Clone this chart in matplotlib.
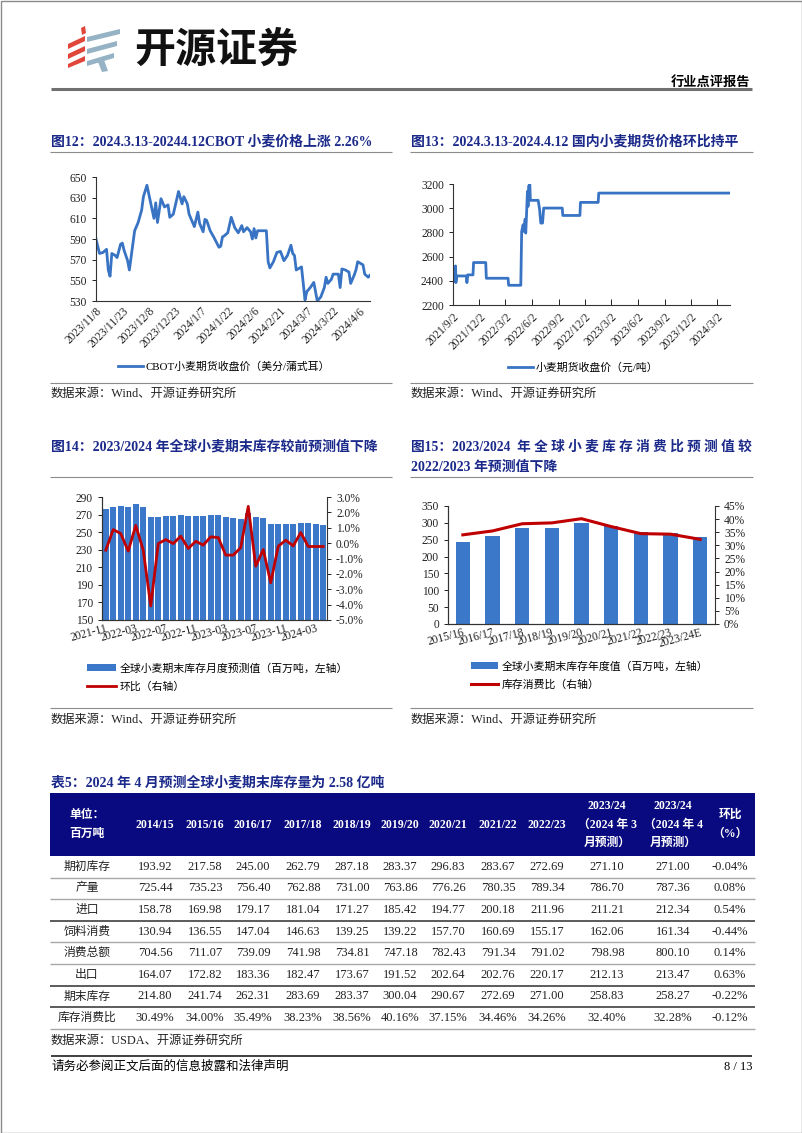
import numpy as np
import pandas as pd
import matplotlib
matplotlib.use("Agg")
import matplotlib.pyplot as plt
from matplotlib.patches import Polygon, Rectangle
from matplotlib.ticker import FormatStrFormatter

plt.rcParams['font.family'] = ['Liberation Serif', 'Noto Sans CJK SC']
plt.rcParams['axes.unicode_minus'] = False

W, H = 802, 1133
NAVY = '#1B2A8A'
BLUE = '#3873C4'
BAR = '#3B78C9'
RED = '#C00000'
HEAD = '#0A0A80'

# ---- 图12: CBOT wheat close (cents/bushel)
cbot_dates = ['2023-11-08', '2023-11-10', '2023-11-12', '2023-11-14', '2023-11-15', '2023-11-16',
              '2023-11-17', '2023-11-19', '2023-11-20', '2023-11-22', '2023-11-23', '2023-11-24',
              '2023-11-26', '2023-11-27', '2023-11-30', '2023-12-02', '2023-12-04', '2023-12-05',
              '2023-12-07', '2023-12-09', '2023-12-11', '2023-12-12', '2023-12-13', '2023-12-15',
              '2023-12-17', '2023-12-19', '2023-12-20', '2023-12-22', '2023-12-25', '2023-12-27',
              '2023-12-28', '2023-12-30', '2023-12-31', '2024-01-03', '2024-01-05', '2024-01-06',
              '2024-01-08', '2024-01-09', '2024-01-10', '2024-01-12', '2024-01-14', '2024-01-17',
              '2024-01-18', '2024-01-19', '2024-01-20', '2024-01-22', '2024-01-24', '2024-01-26',
              '2024-01-28', '2024-01-30', '2024-01-31', '2024-02-02', '2024-02-04', '2024-02-05',
              '2024-02-06', '2024-02-07', '2024-02-08', '2024-02-13', '2024-02-14', '2024-02-15',
              '2024-02-17', '2024-02-19', '2024-02-21', '2024-02-23', '2024-02-25', '2024-02-27',
              '2024-02-28', '2024-02-29', '2024-03-01', '2024-03-02', '2024-03-04', '2024-03-06',
              '2024-03-07', '2024-03-09', '2024-03-11', '2024-03-13', '2024-03-15', '2024-03-17',
              '2024-03-18', '2024-03-19', '2024-03-21', '2024-03-22', '2024-03-25', '2024-03-26',
              '2024-03-27', '2024-03-29', '2024-03-31', '2024-04-01', '2024-04-03', '2024-04-04',
              '2024-04-05', '2024-04-07', '2024-04-08', '2024-04-09', '2024-04-11', '2024-04-12']
cbot_price = [590, 576, 577, 580, 560, 554, 576, 574, 572, 585, 586, 579,
              569, 560, 598, 606, 618, 631, 642, 626, 610, 625, 606, 629,
              621, 623, 611, 614, 636, 624, 631, 624, 614, 602, 616, 605,
              597, 609, 608, 598, 592, 582, 583, 592, 593, 596, 611, 601,
              596, 603, 597, 601, 597, 590, 600, 591, 598, 598, 568, 562,
              568, 577, 578, 569, 574, 584, 576, 574, 560, 561, 563, 531,
              539, 543, 548, 530, 534, 543, 553, 547, 551, 556, 556, 543,
              561, 560, 558, 547, 555, 560, 568, 566, 565, 556, 553, 555]
cbot_ticks = ['2023/11/8', '2023/11/23', '2023/12/8', '2023/12/23', '2024/1/7', '2024/1/22',
              '2024/2/6', '2024/2/21', '2024/3/7', '2024/3/22', '2024/4/6']

# ---- 图13: domestic wheat futures close (yuan/ton)
cn_dates = ['2021-09-02', '2021-09-05', '2021-09-09', '2021-09-11', '2021-09-12', '2021-09-15',
            '2021-10-18', '2021-10-20', '2021-10-23', '2021-11-10', '2021-11-12', '2021-12-24',
            '2021-12-26', '2022-03-11', '2022-03-13', '2022-04-24', '2022-04-27', '2022-05-02',
            '2022-05-05', '2022-05-09', '2022-05-11', '2022-05-13', '2022-05-17', '2022-05-19',
            '2022-05-21', '2022-05-25', '2022-05-27', '2022-06-23', '2022-06-28', '2022-07-02',
            '2022-07-08', '2022-07-12', '2022-09-14', '2022-09-16', '2022-11-14', '2022-11-16',
            '2023-01-16', '2023-01-18', '2024-04-15']
cn_price = [2407, 2393, 2518, 2523, 2385, 2440, 2440, 2385, 2449, 2449, 2551, 2551,
            2421, 2421, 2363, 2363, 2808, 2863, 2808, 2910, 2794, 2904, 3139, 3015,
            3181, 3203, 3065, 3065, 2987, 2877, 2877, 3001, 3001, 2940, 2940, 3048,
            3048, 3125, 3125]
cn_ticks = ['2021/9/2', '2021/12/2', '2022/3/2', '2022/6/2', '2022/9/2', '2022/12/2',
            '2023/3/2', '2023/6/2', '2023/9/2', '2023/12/2', '2024/3/2']

# ---- 图14: monthly ending-stock forecast + MoM
months = ['2021-11', '2021-12', '2022-01', '2022-02', '2022-03', '2022-04', '2022-05', '2022-06',
          '2022-07', '2022-08', '2022-09', '2022-10', '2022-11', '2022-12', '2023-01', '2023-02',
          '2023-03', '2023-04', '2023-05', '2023-06', '2023-07', '2023-08', '2023-09', '2023-10',
          '2023-11', '2023-12', '2024-01', '2024-02', '2024-03', '2024-04']
stock_monthly = [276.5, 278.5, 280.3, 278.8, 282.0, 279.0, 267.6, 267.6, 268.4, 268.4, 269.2, 268.4,
                 268.6, 268.1, 269.2, 270.0, 267.7, 265.6, 264.8, 271.3, 266.9, 266.1, 259.4, 258.9,
                 259.3, 258.9, 260.5, 260.0, 258.8, 258.3]
stock_mom = [-0.46, 0.88, 0.62, -0.52, 1.16, -0.46, -4.09, -0.03, 0.23, -0.03, 0.45, -0.35,
             0.12, -0.13, 0.41, 0.36, -0.78, -0.78, -0.29, 2.39, -1.50, -0.42, -2.58, -0.20,
             0.19, -0.18, 0.69, -0.22, -0.22, -0.22]

# ---- 图15: yearly ending stocks + stock/use ratio
seasons = ['2015/16', '2016/17', '2017/18', '2018/19', '2019/20', '2020/21', '2021/22', '2022/23', '2023/24E']
stock_yearly = [241.74, 262.31, 283.69, 283.37, 300.04, 290.67, 272.69, 271.00, 258.27]
stock_ratio = [34.00, 35.49, 38.23, 38.56, 40.16, 37.15, 34.46, 34.26, 32.28]

# ---- 表5
tab_cols = ['单位：\n百万吨', '2014/15', '2015/16', '2016/17', '2017/18', '2018/19', '2019/20',
            '2020/21', '2021/22', '2022/23', '2023/24\n（2024 年 3\n月预测）',
            '2023/24\n（2024 年 4\n月预测）', '环比\n（%）']
tab_rows = ['期初库存', '产量', '进口', '饲料消费', '消费总额', '出口', '期末库存', '库存消费比']
row_begin = ['193.92', '217.58', '245.00', '262.79', '287.18', '283.37', '296.83', '283.67', '272.69', '271.10', '271.00', '-0.04%']
row_prod = ['725.44', '735.23', '756.40', '762.88', '731.00', '763.86', '776.26', '780.35', '789.34', '786.70', '787.36', '0.08%']
row_imp = ['158.78', '169.98', '179.17', '181.04', '171.27', '185.42', '194.77', '200.18', '211.96', '211.21', '212.34', '0.54%']
row_feed = ['130.94', '136.55', '147.04', '146.63', '139.25', '139.22', '157.70', '160.69', '155.17', '162.06', '161.34', '-0.44%']
row_cons = ['704.56', '711.07', '739.09', '741.98', '734.81', '747.18', '782.43', '791.34', '791.02', '798.98', '800.10', '0.14%']
row_exp = ['164.07', '172.82', '183.36', '182.47', '173.67', '191.52', '202.64', '202.76', '220.17', '212.13', '213.47', '0.63%']
row_end = ['214.80', '241.74', '262.31', '283.69', '283.37', '300.04', '290.67', '272.69', '271.00', '258.83', '258.27', '-0.22%']
row_ratio = ['30.49%', '34.00%', '35.49%', '38.23%', '38.56%', '40.16%', '37.15%', '34.46%', '34.26%', '32.40%', '32.28%', '-0.12%']
tab_values = [row_begin, row_prod, row_imp, row_feed, row_cons, row_exp, row_end, row_ratio]

fig = plt.figure(figsize=(W / 100, H / 100), dpi=100)
page = fig.add_axes([0, 0, 1, 1])
page.set_xlim(0, W); page.set_ylim(H, 0); page.axis('off')


def add_ax(x0, y0, x1, y1):
    return fig.add_axes([x0 / W, 1 - y1 / H, (x1 - x0) / W, (y1 - y0) / H])


def hline(y, x0, x1, color='#8C8C8C', lw=0.8):
    page.plot([x0, x1], [y, y], color=color, lw=lw, solid_capstyle='butt')


# page frame, header, logo
page.add_patch(Rectangle((0.5, 0.5), W - 1, H - 1, fill=False, ec='#8A8A8A', lw=1))
for pts in ([(68, 44), (85, 36), (85, 41), (68, 49)],
            [(68, 54), (85, 46), (85, 51), (68, 59)],
            [(68, 64), (85, 56), (85, 61), (68, 68)],
            [(81, 28), (85, 26), (86, 33), (82, 35)]):
    page.add_patch(Polygon(pts, closed=True, color='#E0463A', lw=0))
for pts in ([(87, 37), (120, 29), (120, 34), (87, 42)],
            [(87, 49), (117, 41), (117, 46), (87, 54)],
            [(87, 61), (114, 53), (114, 58), (87, 66)],
            [(98, 62), (104, 60), (108, 71), (102, 72)]):
    page.add_patch(Polygon(pts, closed=True, color='#95B3C4', lw=0))
page.text(134, 50, '开源证券', fontsize=29.5, fontweight='bold', family='Noto Sans CJK SC',
          va='center', ha='left', color='#111111')
page.text(750, 82, '行业点评报告', fontsize=9.5, fontweight='bold', ha='right', va='center')
hline(89, 51, 752, color='#707070', lw=2.2)

tkw = dict(fontsize=10, fontweight='bold', color=NAVY, va='center', ha='left')
page.text(51, 142, '图12：2024.3.13-20244.12CBOT 小麦价格上涨 2.26%', **tkw)
page.text(411, 142, '图13：2024.3.13-2024.4.12 国内小麦期货价格环比持平', **tkw)
hline(152, 50, 392); hline(152, 410, 753)
skw = dict(fontsize=8.8, va='center', ha='left', color='#222222')
hline(383, 50, 392); hline(383, 410, 753)
page.text(51, 394, '数据来源：Wind、开源证券研究所', **skw)
page.text(411, 394, '数据来源：Wind、开源证券研究所', **skw)
page.text(51, 447, '图14：2023/2024 年全球小麦期末库存较前预测值下降', **tkw)
page.text(411, 447, '图15：2023/2024  年 全 球 小 麦 库 存 消 费 比 预 测 值 较',
          **{**tkw, 'fontsize': 9.85})
page.text(411, 467, '2022/2023 年预测值下降', **tkw)
hline(477, 50, 392); hline(477, 410, 753)
hline(708, 50, 392); hline(708, 410, 753)
page.text(51, 720, '数据来源：Wind、开源证券研究所', **skw)
page.text(411, 720, '数据来源：Wind、开源证券研究所', **skw)
page.text(51, 783, '表5：2024 年 4 月预测全球小麦期末库存量为 2.58 亿吨', **tkw)

# ---- table
col_x = [87, 155, 205, 253, 303, 352, 400, 448, 498, 547, 607, 673, 730]
page.add_patch(Rectangle((50, 793), 705, 63, color=HEAD, lw=0))
for cx, lab in zip(col_x, tab_cols):
    page.text(cx, 824.5, lab, color='white', fontsize=8.5, fontweight='bold',
              ha='center', va='center', linespacing=1.75)
row_h = 21.6
line_dark = [False, False, True, False, False, True, True, False]
for i, (name, vals) in enumerate(zip(tab_rows, tab_values)):
    yc = 856 + row_h * (i + 0.5)
    page.text(col_x[0], yc, name, fontsize=8.5, ha='center', va='center', color='#222222')
    for cx, v in zip(col_x[1:], vals):
        page.text(cx, yc, v, fontsize=9, ha='center', va='center', color='#222222')
    yl = 856 + row_h * (i + 1)
    if line_dark[i]:
        hline(yl, 50, 755, color='#404040', lw=1.2)
    else:
        hline(yl, 50, 755, color='#A8A8A8', lw=1.0)
page.text(51, 1041, '数据来源：USDA、开源证券研究所', **skw)
hline(1056, 51, 752, color='#202020', lw=1.2)
page.text(51, 1067, '请务必参阅正文后面的信息披露和法律声明', fontsize=9, va='center', ha='left')
page.text(752, 1067, '8 / 13', fontsize=9, va='center', ha='right')


def style(ax, spines=('left', 'bottom')):
    for s in ax.spines:
        ax.spines[s].set_visible(s in spines)
        ax.spines[s].set_color('#333333')
        ax.spines[s].set_linewidth(0.8)
    ax.tick_params(labelsize=8.3, width=0.7, length=3, colors='#222222')


# ---- chart 12
ax1 = add_ax(96, 177, 370, 301)
d1 = pd.to_datetime(cbot_dates)
ln1, = ax1.plot(d1, cbot_price, color=BLUE, lw=2)
ax1.set_xlim(d1[0], d1[-1])
ax1.set_ylim(530, 650)
ax1.set_yticks(np.arange(530, 651, 20))
ax1.set_xticks(pd.to_datetime(cbot_ticks))
ax1.set_xticklabels(cbot_ticks, rotation=45, ha='right', rotation_mode='anchor')
style(ax1)
ax1.tick_params(axis='x', length=0, pad=3)
ax1.legend([ln1], ['CBOT小麦期货收盘价（美分/蒲式耳）'], loc='center', frameon=False,
           bbox_to_anchor=(224 / W, 1 - 367 / H), bbox_transform=fig.transFigure,
           fontsize=7.8, handlelength=2.3, handletextpad=0.2, borderpad=0)

# ---- chart 13
ax2 = add_ax(453, 184, 730, 305)
d2 = pd.to_datetime(cn_dates)
ln2, = ax2.plot(d2, cn_price, color=BLUE, lw=2)
ax2.set_xlim(d2[0], d2[-1])
ax2.set_ylim(2200, 3200)
ax2.set_yticks(np.arange(2200, 3201, 200))
ax2.set_xticks(pd.to_datetime(cn_ticks))
ax2.set_xticklabels(cn_ticks, rotation=45, ha='right', rotation_mode='anchor')
style(ax2)
ax2.tick_params(axis='x', direction='in', length=4, pad=4)
ax2.legend([ln2], ['小麦期货收盘价（元/吨）'], loc='center', frameon=False,
           bbox_to_anchor=(583 / W, 1 - 368 / H), bbox_transform=fig.transFigure,
           fontsize=7.8, handlelength=2.3, handletextpad=0.2, borderpad=0)

# ---- chart 14
ax3 = add_ax(102, 497, 327, 620)
x3 = np.arange(len(months))
b3 = ax3.bar(x3, stock_monthly, width=0.86, color=BAR, zorder=2)
ax3.set_xlim(-0.5, len(months) - 0.5)
ax3.set_ylim(150, 290)
ax3.set_yticks(np.arange(150, 291, 20))
ax3.set_xticks(x3[::4])
ax3.set_xticklabels(months[::4], rotation=15, ha='right', rotation_mode='anchor')
ax3r = ax3.twinx()
l3, = ax3r.plot(x3, stock_mom, color=RED, lw=2)
ax3r.set_ylim(-5, 3)
ax3r.set_yticks(np.arange(-5, 3.1, 1))
ax3r.yaxis.set_major_formatter(FormatStrFormatter('%.1f%%'))
style(ax3)
style(ax3r, spines=('right', 'left', 'bottom'))
ax3.tick_params(axis='x', length=0, pad=2)
ax3r.legend([b3, l3], ['全球小麦期末库存月度预测值（百万吨，左轴）', '环比（右轴）'],
            loc='upper left', frameon=False, bbox_to_anchor=(87 / W, 1 - 663 / H),
            bbox_transform=fig.transFigure, fontsize=7.8, handlelength=2.7,
            handletextpad=0.3, borderpad=0, borderaxespad=0, labelspacing=0.75)

# ---- chart 15
ax4 = add_ax(448, 506, 715, 624)
x4 = np.arange(len(seasons))
b4 = ax4.bar(x4, stock_yearly, width=0.48, color=BAR, zorder=2)
ax4.set_xlim(-0.5, len(seasons) - 0.5)
ax4.set_ylim(0, 350)
ax4.set_yticks(np.arange(0, 351, 50))
ax4.set_xticks(x4)
ax4.set_xticklabels(seasons, rotation=15, ha='right', rotation_mode='anchor')
ax4r = ax4.twinx()
l4, = ax4r.plot(x4, stock_ratio, color=RED, lw=2.2)
ax4r.set_ylim(0, 45)
ax4r.set_yticks(np.arange(0, 46, 5))
ax4r.yaxis.set_major_formatter(FormatStrFormatter('%d%%'))
style(ax4)
style(ax4r, spines=('right', 'left', 'bottom'))
ax4.tick_params(axis='x', length=0, pad=2)
ax4r.legend([b4, l4], ['全球小麦期末库存年度值（百万吨，左轴）', '库存消费比（右轴）'],
            loc='upper left', frameon=False, bbox_to_anchor=(471 / W, 1 - 661 / H),
            bbox_transform=fig.transFigure, fontsize=7.8, handlelength=2.5,
            handletextpad=0.3, borderpad=0, borderaxespad=0, labelspacing=0.75)

fig.savefig('out.png', dpi=100)
